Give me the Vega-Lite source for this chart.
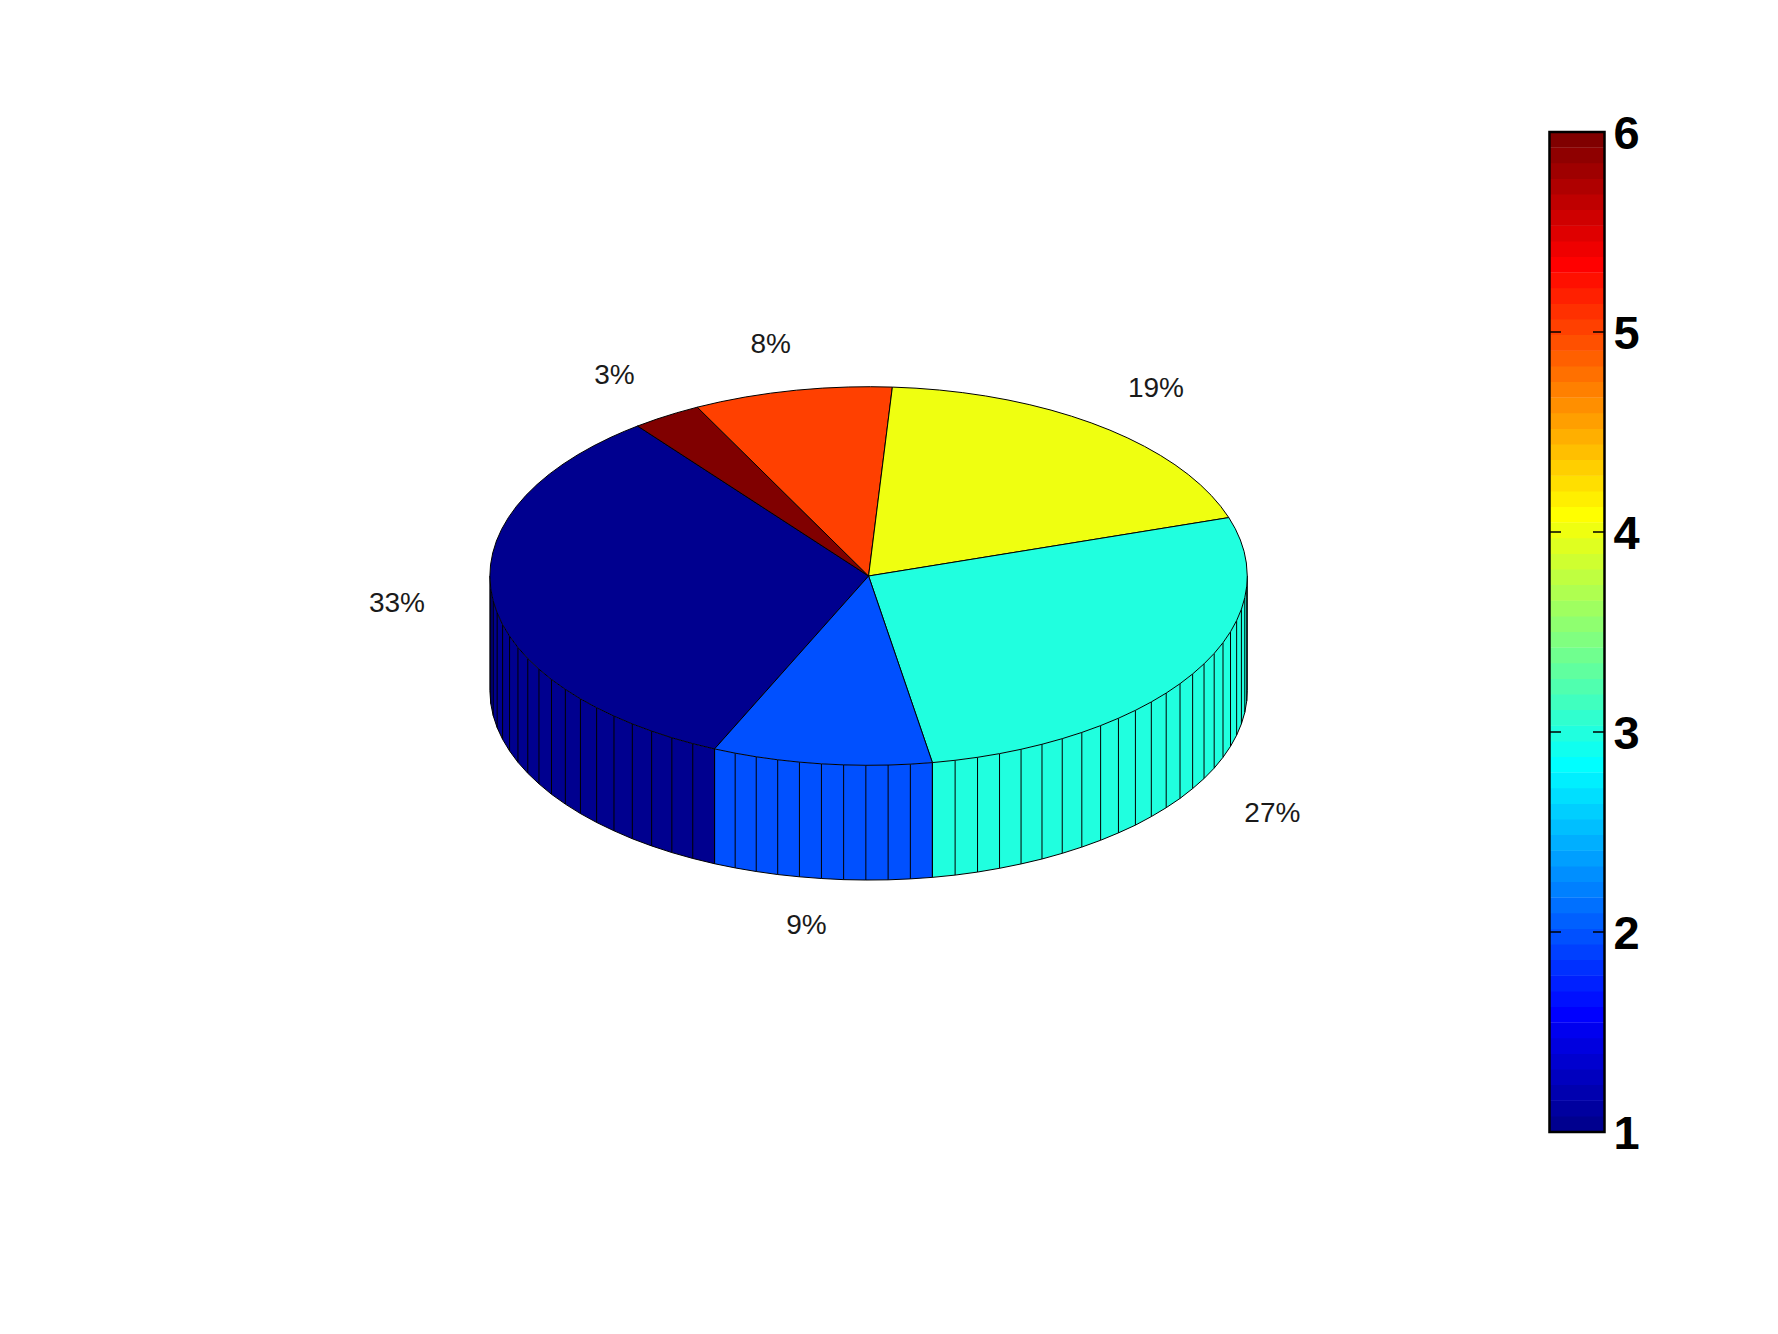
{
"$schema":"https://vega.github.io/schema/vega-lite/v6.json",
"width":1605,"height":1000,
"autosize":{"type":"none"},
"padding":{"left":0,"top":132,"right":173,"bottom":202},
"background":"white",
"view":{"stroke":null},
"datasets":{
"side":[
{"level":1,"x":-1,"top":0,"bottom":-0.606},{"level":1,"x":-0.9976,"top":-0.0689,"bottom":-0.675},{"level":1,"x":-0.9912,"top":-0.1323,"bottom":-0.738},{"level":1,"x":-0.9808,"top":-0.1951,"bottom":-0.801},{"level":1,"x":-0.9664,"top":-0.2571,"bottom":-0.863},{"level":1,"x":-0.948,"top":-0.3181,"bottom":-0.924},{"level":1,"x":-0.9259,"top":-0.3778,"bottom":-0.984},{"level":1,"x":-0.8999,"top":-0.436,"bottom":-1.042},{"level":1,"x":-0.8704,"top":-0.4924,"bottom":-1.098},{"level":1,"x":-0.8373,"top":-0.5467,"bottom":-1.153},{"level":1,"x":-0.8007,"top":-0.599,"bottom":-1.205},{"level":1,"x":-0.7609,"top":-0.6488,"bottom":-1.255},{"level":1,"x":-0.7181,"top":-0.6959,"bottom":-1.302},{"level":1,"x":-0.6723,"top":-0.7402,"bottom":-1.346},{"level":1,"x":-0.6239,"top":-0.7815,"bottom":-1.388},{"level":1,"x":-0.5729,"top":-0.8196,"bottom":-1.426},{"level":1,"x":-0.5195,"top":-0.8545,"bottom":-1.461},{"level":1,"x":-0.4643,"top":-0.8857,"bottom":-1.492},{"level":1,"x":-0.4067,"top":-0.9135,"bottom":-1.52},
{"level":13,"x":-0.4067,"top":-0.9135,"bottom":-1.52},{"level":13,"x":-0.3523,"top":-0.9359,"bottom":-1.542},{"level":13,"x":-0.2967,"top":-0.955,"bottom":-1.561},{"level":13,"x":-0.24,"top":-0.9708,"bottom":-1.577},{"level":13,"x":-0.1826,"top":-0.9832,"bottom":-1.589},{"level":13,"x":-0.1245,"top":-0.9922,"bottom":-1.598},{"level":13,"x":-0.0659,"top":-0.9978,"bottom":-1.604},{"level":13,"x":-0.0072,"top":-1,"bottom":-1.606},{"level":13,"x":0.0516,"top":-0.9987,"bottom":-1.605},{"level":13,"x":0.1103,"top":-0.9939,"bottom":-1.6},{"level":13,"x":0.1685,"top":-0.9857,"bottom":-1.592},
{"level":26,"x":0.1685,"top":-0.9857,"bottom":-1.592},{"level":26,"x":0.2285,"top":-0.9735,"bottom":-1.58},{"level":26,"x":0.2877,"top":-0.9577,"bottom":-1.564},{"level":26,"x":0.3458,"top":-0.9383,"bottom":-1.544},{"level":26,"x":0.4026,"top":-0.9154,"bottom":-1.521},{"level":26,"x":0.4579,"top":-0.889,"bottom":-1.495},{"level":26,"x":0.5114,"top":-0.8593,"bottom":-1.465},{"level":26,"x":0.5631,"top":-0.8264,"bottom":-1.432},{"level":26,"x":0.6127,"top":-0.7903,"bottom":-1.396},{"level":26,"x":0.6598,"top":-0.7514,"bottom":-1.357},{"level":26,"x":0.7046,"top":-0.7096,"bottom":-1.316},{"level":26,"x":0.7466,"top":-0.6652,"bottom":-1.271},{"level":26,"x":0.7859,"top":-0.6184,"bottom":-1.224},{"level":26,"x":0.8224,"top":-0.5689,"bottom":-1.175},{"level":26,"x":0.8557,"top":-0.5174,"bottom":-1.123},{"level":26,"x":0.8858,"top":-0.464,"bottom":-1.07},{"level":26,"x":0.9126,"top":-0.409,"bottom":-1.015},{"level":26,"x":0.9359,"top":-0.3523,"bottom":-0.958},{"level":26,"x":0.9557,"top":-0.2944,"bottom":-0.9},{"level":26,"x":0.9719,"top":-0.2353,"bottom":-0.841},{"level":26,"x":0.9845,"top":-0.1754,"bottom":-0.781},{"level":26,"x":0.9934,"top":-0.1148,"bottom":-0.721},{"level":26,"x":0.9986,"top":-0.0537,"bottom":-0.66},{"level":26,"x":1,"top":0,"bottom":-0.606}
],
"wedges":[
{"level":1,"o":0,"x":0,"y":0},{"level":1,"o":1,"x":-0.4067,"y":-0.9135},{"level":1,"o":2,"x":-0.4643,"y":-0.8857},{"level":1,"o":3,"x":-0.5195,"y":-0.8545},{"level":1,"o":4,"x":-0.5729,"y":-0.8196},{"level":1,"o":5,"x":-0.6239,"y":-0.7815},{"level":1,"o":6,"x":-0.6723,"y":-0.7402},{"level":1,"o":7,"x":-0.7181,"y":-0.6959},{"level":1,"o":8,"x":-0.7609,"y":-0.6488},{"level":1,"o":9,"x":-0.8007,"y":-0.599},{"level":1,"o":10,"x":-0.8373,"y":-0.5467},{"level":1,"o":11,"x":-0.8704,"y":-0.4924},{"level":1,"o":12,"x":-0.8999,"y":-0.436},{"level":1,"o":13,"x":-0.9259,"y":-0.3778},{"level":1,"o":14,"x":-0.948,"y":-0.3181},{"level":1,"o":15,"x":-0.9664,"y":-0.2571},{"level":1,"o":16,"x":-0.9808,"y":-0.1951},{"level":1,"o":17,"x":-0.9912,"y":-0.1323},{"level":1,"o":18,"x":-0.9976,"y":-0.0689},{"level":1,"o":19,"x":-1,"y":0},{"level":1,"o":20,"x":-0.9983,"y":0.0584},{"level":1,"o":21,"x":-0.9925,"y":0.1219},{"level":1,"o":22,"x":-0.9828,"y":0.1848},{"level":1,"o":23,"x":-0.969,"y":0.247},{"level":1,"o":24,"x":-0.9513,"y":0.3082},{"level":1,"o":25,"x":-0.9298,"y":0.3681},{"level":1,"o":26,"x":-0.9045,"y":0.4266},{"level":1,"o":27,"x":-0.8755,"y":0.4833},{"level":1,"o":28,"x":-0.843,"y":0.5381},{"level":1,"o":29,"x":-0.807,"y":0.5906},{"level":1,"o":30,"x":-0.7677,"y":0.6408},{"level":1,"o":31,"x":-0.7254,"y":0.6884},{"level":1,"o":32,"x":-0.6802,"y":0.7331},{"level":1,"o":33,"x":-0.6455,"y":0.7638},{"level":1,"o":34,"x":-0.61,"y":0.7924},{"level":1,"o":35,"x":0,"y":0},
{"level":64,"o":0,"x":0,"y":0},{"level":64,"o":1,"x":-0.61,"y":0.7924},{"level":64,"o":2,"x":-0.5592,"y":0.829},{"level":64,"o":3,"x":-0.5075,"y":0.8616},{"level":64,"o":4,"x":-0.4524,"y":0.8918},{"level":64,"o":5,"x":0,"y":0},
{"level":52,"o":0,"x":0,"y":0},{"level":52,"o":1,"x":-0.4524,"y":0.8918},{"level":52,"o":2,"x":-0.3907,"y":0.9205},{"level":52,"o":3,"x":-0.3256,"y":0.9455},{"level":52,"o":4,"x":-0.2588,"y":0.9659},{"level":52,"o":5,"x":-0.1908,"y":0.9816},{"level":52,"o":6,"x":-0.1219,"y":0.9925},{"level":52,"o":7,"x":-0.0523,"y":0.9986},{"level":52,"o":8,"x":0.0052,"y":1},{"level":52,"o":9,"x":0.0628,"y":0.998},{"level":52,"o":10,"x":0,"y":0},
{"level":39,"o":0,"x":0,"y":0},{"level":39,"o":1,"x":0.0628,"y":0.998},{"level":39,"o":2,"x":0.1253,"y":0.9921},{"level":39,"o":3,"x":0.1874,"y":0.9823},{"level":39,"o":4,"x":0.2487,"y":0.9686},{"level":39,"o":5,"x":0.309,"y":0.9511},{"level":39,"o":6,"x":0.3681,"y":0.9298},{"level":39,"o":7,"x":0.4258,"y":0.9048},{"level":39,"o":8,"x":0.4818,"y":0.8763},{"level":39,"o":9,"x":0.5358,"y":0.8443},{"level":39,"o":10,"x":0.5878,"y":0.809},{"level":39,"o":11,"x":0.6374,"y":0.7705},{"level":39,"o":12,"x":0.6845,"y":0.729},{"level":39,"o":13,"x":0.729,"y":0.6845},{"level":39,"o":14,"x":0.7705,"y":0.6374},{"level":39,"o":15,"x":0.809,"y":0.5878},{"level":39,"o":16,"x":0.8443,"y":0.5358},{"level":39,"o":17,"x":0.8763,"y":0.4818},{"level":39,"o":18,"x":0.9048,"y":0.4258},{"level":39,"o":19,"x":0.9298,"y":0.3681},{"level":39,"o":20,"x":0.9512,"y":0.3087},{"level":39,"o":21,"x":0,"y":0},
{"level":26,"o":0,"x":0,"y":0},{"level":26,"o":1,"x":0.9512,"y":0.3087},{"level":26,"o":2,"x":0.9683,"y":0.2499},{"level":26,"o":3,"x":0.9818,"y":0.1901},{"level":26,"o":4,"x":0.9916,"y":0.1297},{"level":26,"o":5,"x":0.9976,"y":0.0687},{"level":26,"o":6,"x":1,"y":0},{"level":26,"o":7,"x":0.9986,"y":-0.0537},{"level":26,"o":8,"x":0.9934,"y":-0.1148},{"level":26,"o":9,"x":0.9845,"y":-0.1754},{"level":26,"o":10,"x":0.9719,"y":-0.2353},{"level":26,"o":11,"x":0.9557,"y":-0.2944},{"level":26,"o":12,"x":0.9359,"y":-0.3523},{"level":26,"o":13,"x":0.9126,"y":-0.409},{"level":26,"o":14,"x":0.8858,"y":-0.464},{"level":26,"o":15,"x":0.8557,"y":-0.5174},{"level":26,"o":16,"x":0.8224,"y":-0.5689},{"level":26,"o":17,"x":0.7859,"y":-0.6184},{"level":26,"o":18,"x":0.7466,"y":-0.6652},{"level":26,"o":19,"x":0.7046,"y":-0.7096},{"level":26,"o":20,"x":0.6598,"y":-0.7514},{"level":26,"o":21,"x":0.6127,"y":-0.7903},{"level":26,"o":22,"x":0.5631,"y":-0.8264},{"level":26,"o":23,"x":0.5114,"y":-0.8593},{"level":26,"o":24,"x":0.4579,"y":-0.889},{"level":26,"o":25,"x":0.4026,"y":-0.9154},{"level":26,"o":26,"x":0.3458,"y":-0.9383},{"level":26,"o":27,"x":0.2877,"y":-0.9577},{"level":26,"o":28,"x":0.2285,"y":-0.9735},{"level":26,"o":29,"x":0.1685,"y":-0.9857},{"level":26,"o":30,"x":0,"y":0},
{"level":13,"o":0,"x":0,"y":0},{"level":13,"o":1,"x":0.1685,"y":-0.9857},{"level":13,"o":2,"x":0.1103,"y":-0.9939},{"level":13,"o":3,"x":0.0516,"y":-0.9987},{"level":13,"o":4,"x":-0.0072,"y":-1},{"level":13,"o":5,"x":-0.0659,"y":-0.9978},{"level":13,"o":6,"x":-0.1245,"y":-0.9922},{"level":13,"o":7,"x":-0.1826,"y":-0.9832},{"level":13,"o":8,"x":-0.24,"y":-0.9708},{"level":13,"o":9,"x":-0.2967,"y":-0.955},{"level":13,"o":10,"x":-0.3523,"y":-0.9359},{"level":13,"o":11,"x":-0.4067,"y":-0.9135},{"level":13,"o":12,"x":0,"y":0}
],
"labels":[
{"t":"33%","x":-1.2453,"y":-0.1486},{"t":"3%","x":-0.6711,"y":1.0558},{"t":"8%","x":-0.2584,"y":1.2192},{"t":"19%","x":0.7589,"y":0.9889},{"t":"27%","x":1.0662,"y":-1.258},{"t":"9%","x":-0.1642,"y":-1.8503}
],
"bar":[
{"level":1,"lo":1.0,"hi":1.0801},{"level":2,"lo":1.0781,"hi":1.1583},{"level":3,"lo":1.1563,"hi":1.2364},{"level":4,"lo":1.2344,"hi":1.3145},{"level":5,"lo":1.3125,"hi":1.3926},{"level":6,"lo":1.3906,"hi":1.4708},{"level":7,"lo":1.4688,"hi":1.5489},{"level":8,"lo":1.5469,"hi":1.627},{"level":9,"lo":1.625,"hi":1.7051},{"level":10,"lo":1.7031,"hi":1.7833},{"level":11,"lo":1.7813,"hi":1.8614},{"level":12,"lo":1.8594,"hi":1.9395},{"level":13,"lo":1.9375,"hi":2.0176},{"level":14,"lo":2.0156,"hi":2.0958},{"level":15,"lo":2.0938,"hi":2.1739},{"level":16,"lo":2.1719,"hi":2.252},{"level":17,"lo":2.25,"hi":2.3301},{"level":18,"lo":2.3281,"hi":2.4083},{"level":19,"lo":2.4063,"hi":2.4864},{"level":20,"lo":2.4844,"hi":2.5645},{"level":21,"lo":2.5625,"hi":2.6426},{"level":22,"lo":2.6406,"hi":2.7208},{"level":23,"lo":2.7188,"hi":2.7989},{"level":24,"lo":2.7969,"hi":2.877},{"level":25,"lo":2.875,"hi":2.9551},{"level":26,"lo":2.9531,"hi":3.0333},{"level":27,"lo":3.0313,"hi":3.1114},{"level":28,"lo":3.1094,"hi":3.1895},{"level":29,"lo":3.1875,"hi":3.2676},{"level":30,"lo":3.2656,"hi":3.3458},{"level":31,"lo":3.3438,"hi":3.4239},{"level":32,"lo":3.4219,"hi":3.502},{"level":33,"lo":3.5,"hi":3.5801},{"level":34,"lo":3.5781,"hi":3.6583},{"level":35,"lo":3.6563,"hi":3.7364},{"level":36,"lo":3.7344,"hi":3.8145},{"level":37,"lo":3.8125,"hi":3.8926},{"level":38,"lo":3.8906,"hi":3.9708},{"level":39,"lo":3.9688,"hi":4.0489},{"level":40,"lo":4.0469,"hi":4.127},{"level":41,"lo":4.125,"hi":4.2051},{"level":42,"lo":4.2031,"hi":4.2833},{"level":43,"lo":4.2813,"hi":4.3614},{"level":44,"lo":4.3594,"hi":4.4395},{"level":45,"lo":4.4375,"hi":4.5176},{"level":46,"lo":4.5156,"hi":4.5958},{"level":47,"lo":4.5938,"hi":4.6739},{"level":48,"lo":4.6719,"hi":4.752},{"level":49,"lo":4.75,"hi":4.8301},{"level":50,"lo":4.8281,"hi":4.9083},{"level":51,"lo":4.9063,"hi":4.9864},{"level":52,"lo":4.9844,"hi":5.0645},{"level":53,"lo":5.0625,"hi":5.1426},{"level":54,"lo":5.1406,"hi":5.2208},{"level":55,"lo":5.2188,"hi":5.2989},{"level":56,"lo":5.2969,"hi":5.377},{"level":57,"lo":5.375,"hi":5.4551},{"level":58,"lo":5.4531,"hi":5.5333},{"level":59,"lo":5.5313,"hi":5.6114},{"level":60,"lo":5.6094,"hi":5.6895},{"level":61,"lo":5.6875,"hi":5.7676},{"level":62,"lo":5.7656,"hi":5.8458},{"level":63,"lo":5.8438,"hi":5.9239},{"level":64,"lo":5.9219,"hi":6.0}
],
"ticks":[{"v":1},{"v":2},{"v":3},{"v":4},{"v":5},{"v":6}]
},
"resolve":{"scale":{"y":"independent","fill":"independent"},"axis":{"y":"independent"}},
"layer":[
{
"layer":[
{"data":{"name":"side"},"mark":{"type":"area","stroke":null},
 "encoding":{"x":{"field":"x","type":"quantitative","scale":{"domain":[-2.2936,1.9446],"nice":false,"zero":false},"axis":null},
  "y":{"field":"top","type":"quantitative","scale":{"domain":[-2.9371,2.3455],"nice":false,"zero":false},"axis":null},
  "y2":{"field":"bottom"},
  "fill":{"field":"level","type":"ordinal","scale":{"domain":[1,13,26,39,52,64],"range":["#00008F","#0050FF","#20FFDF","#EFFF10","#FF4000","#800000"]},"legend":null}}},
{"data":{"name":"side"},"mark":{"type":"rule","color":"black","strokeWidth":1},
 "encoding":{"x":{"field":"x","type":"quantitative"},"y":{"field":"top","type":"quantitative"},"y2":{"field":"bottom"}}},
{"data":{"name":"side"},"mark":{"type":"line","color":"black","strokeWidth":1},
 "encoding":{"x":{"field":"x","type":"quantitative"},"y":{"field":"bottom","type":"quantitative"},"detail":{"field":"level"},"order":{"field":"x","type":"quantitative"}}},
{"data":{"name":"wedges"},"mark":{"type":"line","stroke":"black","strokeWidth":1,"strokeJoin":"miter"},
 "encoding":{"x":{"field":"x","type":"quantitative"},"y":{"field":"y","type":"quantitative"},
  "order":{"field":"o","type":"quantitative"},
  "fill":{"field":"level","type":"ordinal","scale":{"domain":[1,13,26,39,52,64],"range":["#00008F","#0050FF","#20FFDF","#EFFF10","#FF4000","#800000"]},"legend":null}}},
{"data":{"name":"labels"},"mark":{"type":"text","font":"Liberation Sans","fontSize":28,"color":"#1a1a1a","align":"center","baseline":"middle"},
 "encoding":{"x":{"field":"x","type":"quantitative"},"y":{"field":"y","type":"quantitative"},"text":{"field":"t"}}}
]
},
{
"layer":[
{"data":{"name":"bar"},"mark":{"type":"rect"},
 "encoding":{"x":{"datum":1.798,"type":"quantitative"},"x2":{"datum":1.9433},
  "y":{"field":"lo","type":"quantitative","scale":{"domain":[1,6],"nice":false,"zero":false},
   "axis":{"orient":"right","values":[1,2,3,4,5,6],"title":null,"domain":false,"ticks":false,"grid":false,"format":"d","labelFont":"Liberation Sans","labelFontWeight":"bold","labelFontSize":47,"labelColor":"black","labelPadding":8,"labelBaseline":"middle","labelOffset":2}},
  "y2":{"field":"hi"},
  "fill":{"field":"level","type":"ordinal","scale":{"domain":[1,2,3,4,5,6,7,8,9,10,11,12,13,14,15,16,17,18,19,20,21,22,23,24,25,26,27,28,29,30,31,32,33,34,35,36,37,38,39,40,41,42,43,44,45,46,47,48,49,50,51,52,53,54,55,56,57,58,59,60,61,62,63,64],"range":["#00008F","#00009F","#0000AF","#0000BF","#0000CF","#0000DF","#0000EF","#0000FF","#0010FF","#0020FF","#0030FF","#0040FF","#0050FF","#0060FF","#0070FF","#0080FF","#008FFF","#009FFF","#00AFFF","#00BFFF","#00CFFF","#00DFFF","#00EFFF","#00FFFF","#10FFEF","#20FFDF","#30FFCF","#40FFBF","#50FFAF","#60FF9F","#70FF8F","#80FF80","#8FFF70","#9FFF60","#AFFF50","#BFFF40","#CFFF30","#DFFF20","#EFFF10","#FFFF00","#FFEF00","#FFDF00","#FFCF00","#FFBF00","#FFAF00","#FF9F00","#FF8F00","#FF8000","#FF7000","#FF6000","#FF5000","#FF4000","#FF3000","#FF2000","#FF1000","#FF0000","#EF0000","#DF0000","#CF0000","#BF0000","#AF0000","#9F0000","#8F0000","#800000"]},"legend":null}}},
{"data":{"name":"ticks"},"mark":{"type":"rule","color":"black","strokeWidth":1.5},
 "encoding":{"x":{"datum":1.798,"type":"quantitative"},"x2":{"datum":1.8284},"y":{"field":"v","type":"quantitative"}}},
{"data":{"name":"ticks"},"mark":{"type":"rule","color":"black","strokeWidth":1.5},
 "encoding":{"x":{"datum":1.9129,"type":"quantitative"},"x2":{"datum":1.9433},"y":{"field":"v","type":"quantitative"}}},
{"data":{"values":[{"a":1,"b":6}]},"mark":{"type":"rect","fillOpacity":0,"stroke":"black","strokeWidth":2.5},
 "encoding":{"x":{"datum":1.798,"type":"quantitative"},"x2":{"datum":1.9433},"y":{"field":"a","type":"quantitative"},"y2":{"field":"b"}}}
]
}
]
}
